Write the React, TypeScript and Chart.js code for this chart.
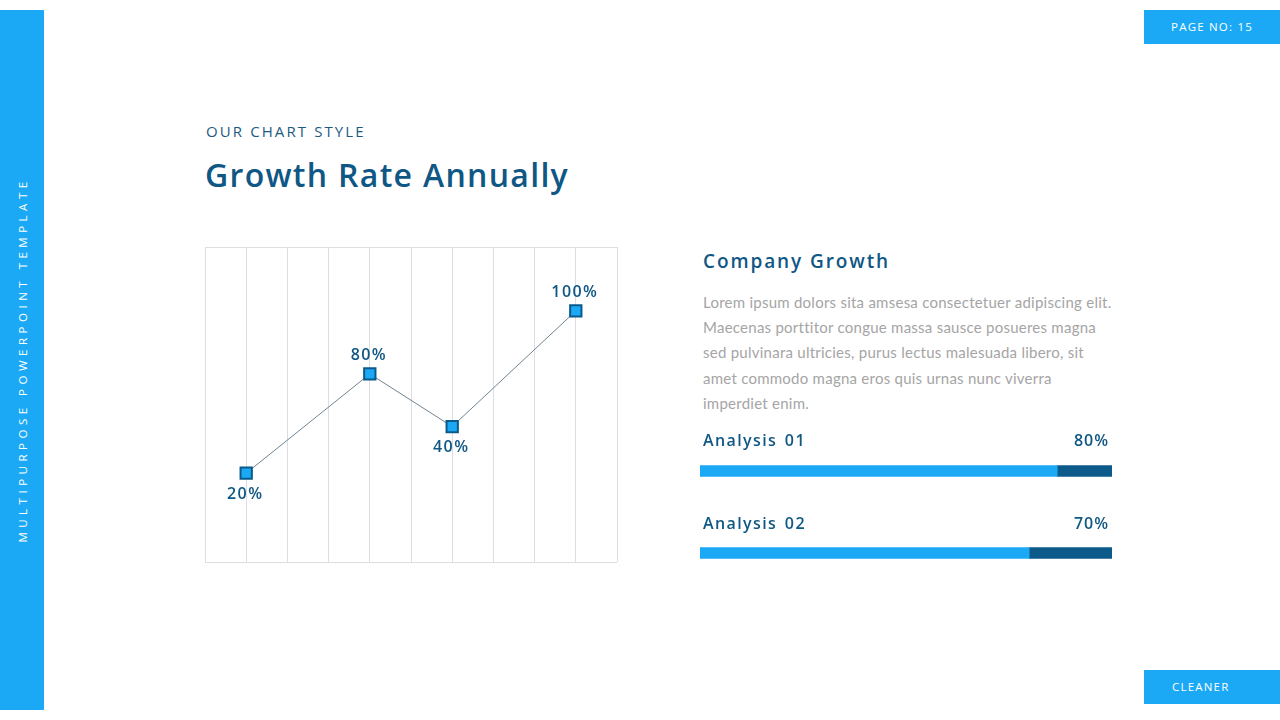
import React, { useEffect, useRef } from "react";
import { Chart, registerables } from "chart.js";

Chart.register(...registerables);

// ---- Data ----
const growthX = [1, 4, 6, 9]; // column positions on a 0..10 grid
const growthValues = [28.2, 59.7, 43, 79.7]; // plotted heights (0..100)
const growthLabels = ["20%", "80%", "40%", "100%"];

const analysisNames = ["Analysis 01", "Analysis 02"];
const analysisFilled = [86.7, 79.9]; // light-blue share
const analysisLabels = ["80%", "70%"];

const paragraphLines = [
  "Lorem ipsum dolors sita amsesa consectetuer adipiscing elit.",
  "Maecenas porttitor congue massa sausce posueres magna",
  "sed pulvinara ultricies, purus lectus malesuada libero, sit",
  "amet commodo magna eros quis urnas nunc viverra",
  "imperdiet enim.",
];

const LIGHT = "#1ba9f6";
const DARK = "#0b5a8a";
const TITLE = "#0f5784";
const HEAD_FONT = "'Open Sans', 'Noto Sans', sans-serif";
const BODY_FONT = "Lato, 'Open Sans', sans-serif";

const pointLabelPlugin = {
  id: "pointLabels",
  afterDatasetsDraw(chart: any) {
    const ctx = chart.ctx;
    const meta = chart.getDatasetMeta(0);
    const vals = chart.data.datasets[0].data.map((d: any) => d.y);
    ctx.save();
    ctx.font = `600 16px ${HEAD_FONT}`;
    ctx.fillStyle = TITLE;
    ctx.textAlign = "center";
    ctx.textBaseline = "middle";
    try {
      (ctx as any).letterSpacing = "1.4px";
    } catch (e) {}
    meta.data.forEach((pt: any, i: number) => {
      const prev = i > 0 ? vals[i - 1] : -Infinity;
      const next = i < vals.length - 1 ? vals[i + 1] : -Infinity;
      const isLow =
        (i === 0 || vals[i] < prev) && (i === vals.length - 1 || vals[i] < next);
      const dy = isLow ? 21 : -19;
      ctx.fillText(growthLabels[i], pt.x - 1, pt.y + dy);
    });
    ctx.restore();
  },
};

function LineChart() {
  const ref = useRef<HTMLCanvasElement>(null);
  useEffect(() => {
    const chart = new Chart(ref.current!, {
      type: "line",
      data: {
        datasets: [
          {
            data: growthX.map((x, i) => ({ x, y: growthValues[i] })),
            borderColor: "#6f8390",
            borderWidth: 1,
            pointStyle: "rect",
            pointRadius: 8,
            pointBackgroundColor: LIGHT,
            pointBorderColor: DARK,
            pointBorderWidth: 2,
            tension: 0,
          },
        ],
      },
      options: {
        animation: false,
        responsive: false,
        layout: { padding: 10 },
        plugins: { legend: { display: false }, tooltip: { enabled: false } },
        scales: {
          x: {
            type: "linear",
            min: 0,
            max: 10,
            ticks: { stepSize: 1, display: false },
            grid: { color: "#dcdee1", drawTicks: false, lineWidth: 1 },
            border: { display: false },
          },
          y: {
            min: 0,
            max: 100,
            ticks: { stepSize: 100, display: false },
            grid: { color: "#dcdee1", drawTicks: false, lineWidth: 1 },
            border: { display: false },
          },
        },
      },
      plugins: [pointLabelPlugin],
    });
    return () => chart.destroy();
  }, []);
  return (
    <canvas
      ref={ref}
      width={432}
      height={335}
      style={{ position: "absolute", left: 195, top: 237, width: 432, height: 335 }}
    />
  );
}

function ProgressBars() {
  const ref = useRef<HTMLCanvasElement>(null);
  useEffect(() => {
    const chart = new Chart(ref.current!, {
      type: "bar",
      data: {
        labels: analysisNames,
        datasets: [
          {
            data: analysisFilled,
            backgroundColor: LIGHT,
            barThickness: 11,
            borderWidth: 0,
          },
          {
            data: analysisFilled.map((v) => 100 - v),
            backgroundColor: DARK,
            barThickness: 11,
            borderWidth: 0,
          },
        ],
      },
      options: {
        animation: false,
        responsive: false,
        indexAxis: "y",
        layout: { padding: 0 },
        plugins: { legend: { display: false }, tooltip: { enabled: false } },
        scales: {
          x: { stacked: true, min: 0, max: 100, display: false },
          y: { stacked: true, display: false },
        },
      },
    });
    return () => chart.destroy();
  }, []);
  return (
    <canvas
      ref={ref}
      width={412}
      height={164}
      style={{ position: "absolute", left: 700, top: 430, width: 412, height: 164 }}
    />
  );
}

export default function App() {
  useEffect(() => {
    document.body.style.margin = "0";
  }, []);
  const abs = (s: React.CSSProperties): React.CSSProperties => ({
    position: "absolute",
    margin: 0,
    whiteSpace: "nowrap",
    ...s,
  });
  return (
    <div
      style={{
        position: "absolute",
        left: 0,
        top: 0,
        width: 1280,
        height: 720,
        background: "#ffffff",
        overflow: "hidden",
        fontFamily: HEAD_FONT,
      }}
    >
      {/* Left sidebar */}
      <div style={abs({ left: 0, top: 10, width: 44, height: 700, background: LIGHT })} />
      <div
        style={abs({
          left: 22,
          top: 360,
          transform: "translate(-50%, -50%) rotate(-90deg)",
          color: "#ffffff",
          fontSize: 11.5,
          letterSpacing: 4.5,
          fontFamily: HEAD_FONT,
        })}
      >
        MULTIPURPOSE POWERPOINT TEMPLATE
      </div>

      {/* Page no */}
      <div
        style={abs({
          left: 1144,
          top: 10,
          width: 136,
          height: 34,
          background: LIGHT,
          color: "#ffffff",
          fontSize: 11.5,
          letterSpacing: 1.2,
          lineHeight: "34px",
          textAlign: "center",
        })}
      >
        PAGE NO: 15
      </div>
      <div
        style={abs({
          left: 1144,
          top: 670,
          width: 136,
          height: 34,
          background: LIGHT,
          color: "#ffffff",
          fontSize: 11.5,
          letterSpacing: 1.2,
          lineHeight: "34px",
          paddingLeft: 28,
          boxSizing: "border-box",
        })}
      >
        CLEANER
      </div>

      {/* Titles */}
      <div
        style={abs({
          left: 206,
          top: 121,
          fontSize: 15,
          letterSpacing: 2.1,
          color: "#1d5a80",
          lineHeight: "20px",
        })}
      >
        OUR CHART STYLE
      </div>
      <div
        style={abs({
          left: 205,
          top: 153,
          fontSize: 32,
          fontWeight: 600,
          color: TITLE,
          lineHeight: "44px",
          letterSpacing: 1.3,
        })}
      >
        Growth Rate Annually
      </div>

      <LineChart />

      {/* Right side */}
      <div
        style={abs({
          left: 703,
          top: 248,
          fontSize: 19,
          fontWeight: 600,
          color: TITLE,
          letterSpacing: 1.9,
          lineHeight: "26px",
        })}
      >
        Company Growth
      </div>
      <div
        style={abs({
          left: 703,
          top: 290,
          fontSize: 15,
          color: "#a5a5a5",
          lineHeight: "25.2px",
          letterSpacing: 0.25,
          fontFamily: BODY_FONT,
        })}
      >
        {paragraphLines.map((l, i) => (
          <div key={i}>{l}</div>
        ))}
      </div>

      <ProgressBars />
      {analysisNames.map((n, i) => (
        <React.Fragment key={n}>
          <div
            style={abs({
              left: 703,
              top: 428 + i * 83,
              fontSize: 16,
              fontWeight: 600,
              color: TITLE,
              letterSpacing: 1.4,
              lineHeight: "24px",
              wordSpacing: 2,
            })}
          >
            {n}
          </div>
          <div
            style={abs({
              right: 1280 - 1109,
              top: 428 + i * 83,
              fontSize: 16,
              fontWeight: 600,
              color: TITLE,
              letterSpacing: 1,
              lineHeight: "24px",
            })}
          >
            {analysisLabels[i]}
          </div>
        </React.Fragment>
      ))}
    </div>
  );
}
